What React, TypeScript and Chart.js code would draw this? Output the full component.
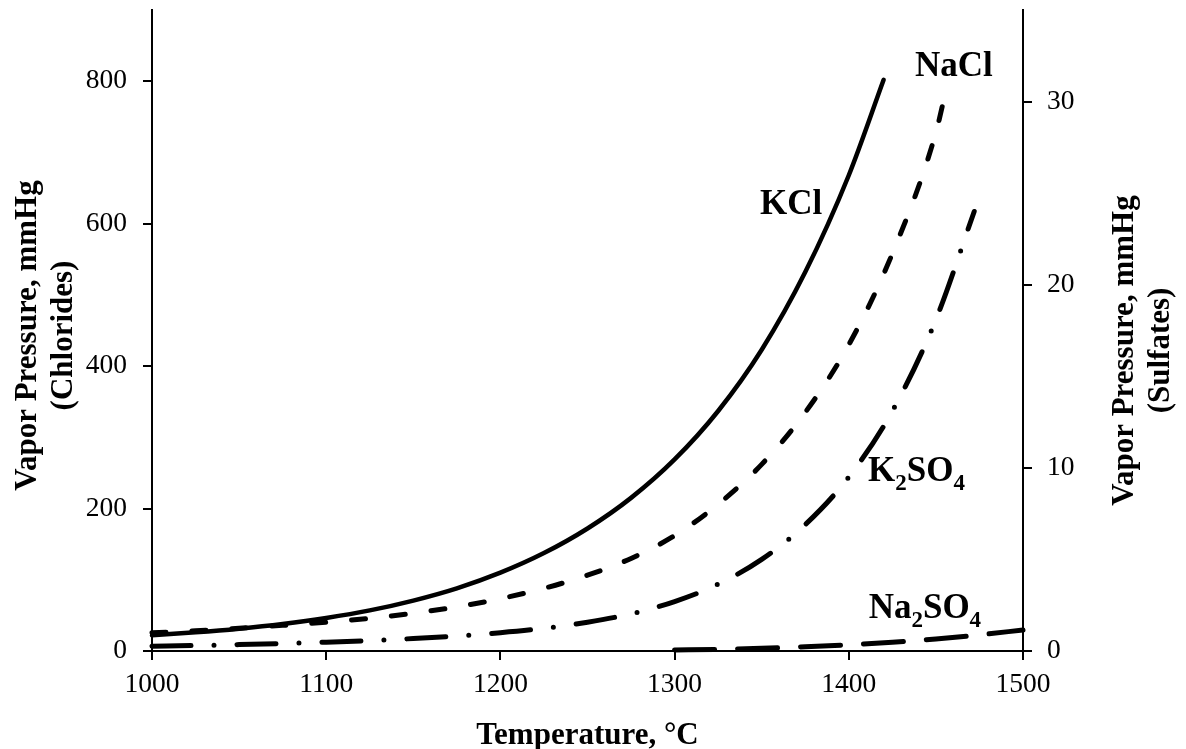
import React, { useEffect, useRef } from "react";
import { Chart, registerables } from "chart.js";

Chart.register(...registerables);

// ---- data ----
const KCL_T = [1000, 1025, 1050, 1075, 1100, 1125, 1150, 1175, 1200, 1225, 1250, 1275, 1300, 1325, 1350, 1375, 1400, 1420];
const KCL_P = [22, 26.2, 31.4, 38, 46.4, 57, 70.8, 88, 110, 137.5, 172, 215, 269, 337, 423, 532, 668, 802];

const NACL_T = [1000, 1025, 1050, 1075, 1100, 1125, 1150, 1175, 1200, 1225, 1250, 1275, 1300, 1325, 1350, 1375, 1400, 1425, 1450, 1456];
const NACL_P = [25.5, 28.5, 32, 36, 40.5, 46, 53, 62, 73.5, 88, 106.5, 130, 162, 206, 262, 335, 430, 558, 728, 790];

const K2SO4_T = [1000, 1025, 1050, 1075, 1100, 1125, 1150, 1175, 1200, 1225, 1250, 1275, 1300, 1325, 1350, 1375, 1400, 1425, 1450, 1472];
const K2SO4_P = [0.26, 0.3, 0.35, 0.41, 0.48, 0.57, 0.68, 0.82, 1.0, 1.24, 1.57, 2.03, 2.7, 3.65, 5.0, 6.9, 9.5, 13.1, 18.1, 24.0];

const NA2SO4_T = [1300, 1325, 1350, 1375, 1400, 1425, 1450, 1475, 1500];
const NA2SO4_P = [0.05, 0.09, 0.15, 0.23, 0.34, 0.48, 0.66, 0.88, 1.15];

const X_TICKS = [1000, 1100, 1200, 1300, 1400, 1500];
const LEFT_TICKS = [0, 200, 400, 600, 800];
const RIGHT_TICKS = [0, 10, 20, 30];

const X_TITLE = "Temperature, °C";
const LEFT_TITLE = ["Vapor Pressure, mmHg", "(Chlorides)"];
const RIGHT_TITLE = ["Vapor Pressure, mmHg", "(Sulfates)"];

// curve labels: text parts [text, isSubscript], anchored in data units (x = °C, y = left axis)
const CURVE_LABELS: { parts: [string, boolean][]; t: number; v: number }[] = [
  { parts: [["KCl", false]], t: 1349, v: 613 },
  { parts: [["NaCl", false]], t: 1438, v: 808 },
  { parts: [["K", false], ["2", true], ["SO", false], ["4", true]], t: 1411, v: 238 },
  { parts: [["Na", false], ["2", true], ["SO", false], ["4", true]], t: 1411.4, v: 47 },
];

const FONT = "'Times New Roman', 'Liberation Serif', serif";

const toPts = (xs: number[], ys: number[]) => xs.map((x, i) => ({ x, y: ys[i] }));

const textPlugin = {
  id: "textPlugin",
  afterDraw(chart: any) {
    const ctx = chart.ctx as CanvasRenderingContext2D;
    const { left, right, top, bottom } = chart.chartArea;
    const xs = chart.scales.x;
    const ys = chart.scales.y;
    ctx.save();
    ctx.fillStyle = "#000";
    ctx.textBaseline = "alphabetic";

    // curve labels
    for (const lab of CURVE_LABELS) {
      let px = xs.getPixelForValue(lab.t);
      const py = ys.getPixelForValue(lab.v);
      ctx.textAlign = "left";
      for (const [txt, sub] of lab.parts) {
        ctx.font = sub ? `bold 23px ${FONT}` : `bold 35px ${FONT}`;
        ctx.fillText(txt, px, sub ? py + 9 : py);
        px += ctx.measureText(txt).width;
      }
    }

    // axis titles
    ctx.font = `bold 31px ${FONT}`;
    ctx.textAlign = "center";
    ctx.fillText(X_TITLE, (left + right) / 2, bottom + 93);

    const midL = (top + bottom) / 2 + 5;
    LEFT_TITLE.forEach((line, i) => {
      ctx.save();
      ctx.translate(left - 116 + i * 36, midL);
      ctx.rotate(-Math.PI / 2);
      ctx.fillText(line, 0, 0);
      ctx.restore();
    });

    const midR = (top + bottom) / 2 + 20;
    RIGHT_TITLE.forEach((line, i) => {
      ctx.save();
      ctx.translate(right + 110 + i * 36, midR);
      ctx.rotate(-Math.PI / 2);
      ctx.fillText(line, 0, 0);
      ctx.restore();
    });
    ctx.restore();
  },
};

export default function App() {
  const ref = useRef<HTMLCanvasElement>(null);

  useEffect(() => {
    if (!ref.current) return;
    const tickFont = { family: FONT, size: 27.5 };
    const grid = {
      drawOnChartArea: false,
      drawTicks: true,
      tickLength: 9,
      color: "#000",
      tickWidth: 2,
      lineWidth: 2,
    };
    const border = { display: true, color: "#000", width: 2 };
    const plain = (v: any) => String(v);

    const chart = new Chart(ref.current, {
      type: "line",
      data: {
        datasets: [
          {
            label: "KCl",
            data: toPts(KCL_T, KCL_P),
            yAxisID: "y",
            borderColor: "#000",
            borderWidth: 4.5,
            pointRadius: 0,
            cubicInterpolationMode: "monotone",
            borderCapStyle: "round",
            clip: false,
          },
          {
            label: "NaCl",
            data: toPts(NACL_T, NACL_P),
            yAxisID: "y",
            borderColor: "#000",
            borderWidth: 5,
            borderDash: [14, 26],
            borderCapStyle: "round",
            pointRadius: 0,
            cubicInterpolationMode: "monotone",
            clip: false,
          },
          {
            label: "K2SO4",
            data: toPts(K2SO4_T, K2SO4_P),
            yAxisID: "y1",
            borderColor: "#000",
            borderWidth: 5,
            borderDash: [39, 23, 0, 23],
            borderCapStyle: "round",
            pointRadius: 0,
            cubicInterpolationMode: "monotone",
            clip: false,
          },
          {
            label: "Na2SO4",
            data: toPts(NA2SO4_T, NA2SO4_P),
            yAxisID: "y1",
            borderColor: "#000",
            borderWidth: 5,
            borderDash: [40, 23],
            borderCapStyle: "round",
            pointRadius: 0,
            cubicInterpolationMode: "monotone",
            clip: false,
          },
        ],
      } as any,
      options: {
        animation: false,
        responsive: false,
        devicePixelRatio: 1,
        layout: { padding: { top: 10, left: 0, right: 0, bottom: 0 } },
        plugins: { legend: { display: false }, tooltip: { enabled: false } },
        events: [],
        scales: {
          x: {
            type: "linear",
            min: 1000,
            max: 1500,
            afterBuildTicks: (axis: any) => {
              axis.ticks = X_TICKS.map((value) => ({ value }));
            },
            afterFit: (scale: any) => {
              scale.height = 98;
              scale.paddingLeft = 0;
              scale.paddingRight = 0;
            },
            ticks: { font: tickFont, color: "#000", padding: 8, maxRotation: 0, callback: plain },
            grid,
            border,
          },
          y: {
            type: "linear",
            position: "left",
            min: 0,
            max: 900,
            afterBuildTicks: (axis: any) => {
              axis.ticks = LEFT_TICKS.map((value) => ({ value }));
            },
            afterFit: (scale: any) => {
              scale.width = 152;
              scale.paddingTop = 0;
              scale.paddingBottom = 0;
            },
            ticks: { font: tickFont, color: "#000", padding: 16, callback: plain },
            grid,
            border,
          },
          y1: {
            type: "linear",
            position: "right",
            min: 0,
            max: 35,
            afterBuildTicks: (axis: any) => {
              axis.ticks = RIGHT_TICKS.map((value) => ({ value }));
            },
            afterFit: (scale: any) => {
              scale.width = 163;
              scale.paddingTop = 0;
              scale.paddingBottom = 0;
            },
            ticks: { font: tickFont, color: "#000", padding: 15, callback: plain },
            grid,
            border,
          },
        },
      } as any,
      plugins: [textPlugin],
    });
    return () => chart.destroy();
  }, []);

  return (
    <div style={{ position: "fixed", left: 0, top: 0, width: 1186, height: 749, background: "#fff" }}>
      <canvas ref={ref} width={1186} height={749} style={{ display: "block", width: 1186, height: 749 }} />
    </div>
  );
}
